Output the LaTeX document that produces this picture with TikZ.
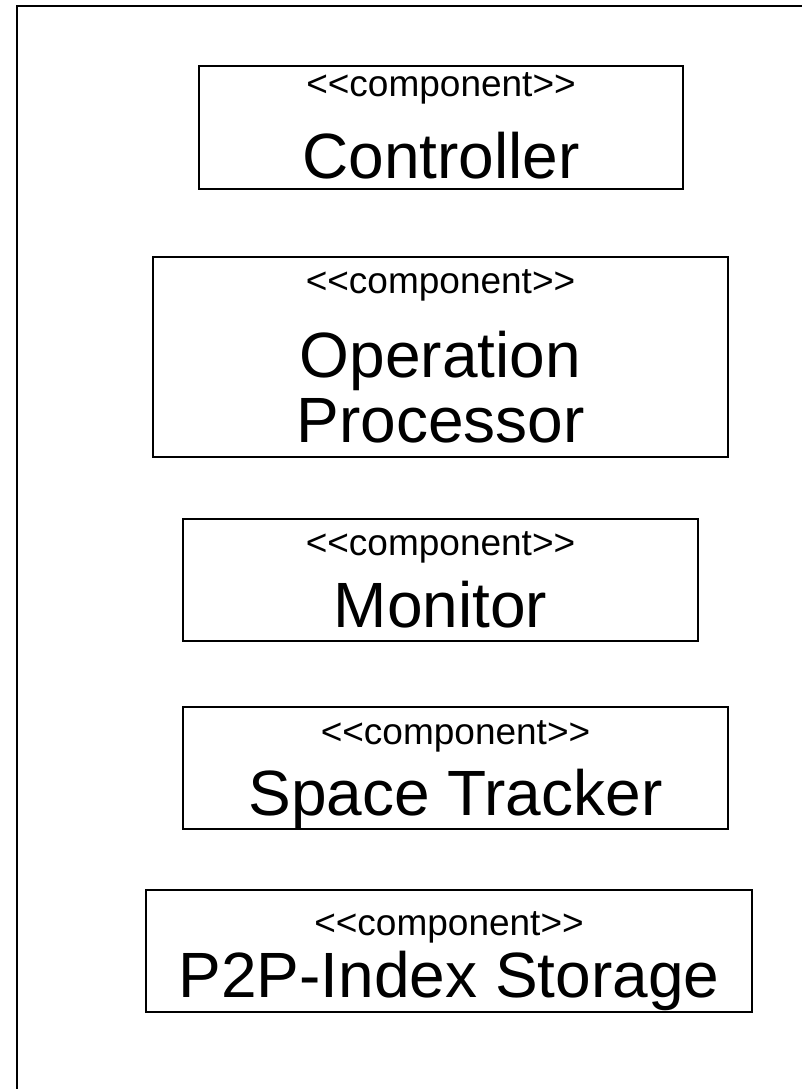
\documentclass[tikz,border=0pt]{standalone}
\usepackage{fontspec}
\newfontfamily\umlfont{Liberation Sans}
\begin{document}
\begin{tikzpicture}[x=1pt,y=-1pt,
  compbox/.style={draw=black,line width=1.5pt,fill=white,inner sep=0pt},
  stereo/.style={anchor=base,inner sep=0pt,font=\umlfont\fontsize{37}{44}\selectfont},
  cname/.style={anchor=base,inner sep=0pt,font=\umlfont\fontsize{64}{65}\selectfont}]
\clip (0,0) rectangle (802,1089);
\fill[white] (0,0) rectangle (802,1089);
% enclosing frame, running off the right and bottom edges
\draw[line width=1.8pt] (17,1100) -- (17,6) -- (820,6);

% Controller
\node[compbox,minimum width=484pt,minimum height=123pt] (ctrl) at (441,127.5) {};
\node[stereo] (ctrlS) at (441,97) {<<component>>};
\node[cname] (ctrlN) at (441,178) {Controller};

% Operation Processor
\node[compbox,minimum width=575pt,minimum height=200pt] (oper) at (440.5,357) {};
\node[stereo] (operS) at (440.5,293) {<<component>>};
\node[cname] (operN1) at (440.5,377) {Operation};
\node[cname] (operN2) at (440.5,442) {Processor};

% Monitor
\node[compbox,minimum width=515pt,minimum height=122pt] (mon) at (440.5,580) {};
\node[stereo] (monS) at (440.5,555) {<<component>>};
\node[cname] (monN) at (440.5,627) {Monitor};

% Space Tracker
\node[compbox,minimum width=545pt,minimum height=122pt] (space) at (455.5,768) {};
\node[stereo] (spaceS) at (455.5,744) {<<component>>};
\node[cname] (spaceN) at (455.5,815) {Space Tracker};

% P2P-Index Storage
\node[compbox,minimum width=606pt,minimum height=122pt] (p2p) at (449,951) {};
\node[stereo] (p2pS) at (449,935) {<<component>>};
\node[cname] (p2pN) at (449,997) {P2P-Index Storage};
\end{tikzpicture}
\end{document}
